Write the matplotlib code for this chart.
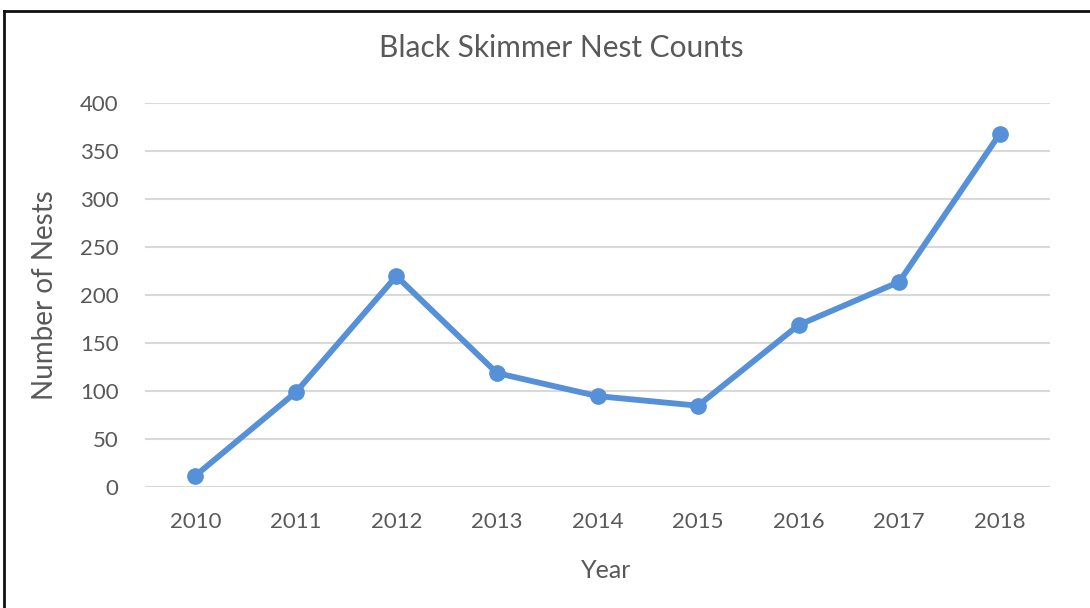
import matplotlib
matplotlib.use('Agg')
import matplotlib.pyplot as plt
from matplotlib.lines import Line2D

years = ['2010', '2011', '2012', '2013', '2014', '2015', '2016', '2017', '2018']
nests = [12, 99, 220, 119, 95, 85, 169, 214, 368]
yticks = [0, 50, 100, 150, 200, 250, 300, 350, 400]

plt.rcParams['font.family'] = ['Lato', 'DejaVu Sans']
grey = '#595959'

fig = plt.figure(figsize=(10.9, 6.08), dpi=100)
ax = fig.add_axes([145 / 1090, 1 - 487.3 / 608, 905 / 1090, 384 / 608])

x = list(range(len(years)))
ax.plot(x, nests, color='#5590D8', linewidth=4.2, marker='o', markersize=11,
        solid_capstyle='round', solid_joinstyle='round', zorder=3)

ax.set_xlim(-0.5, len(years) - 0.5)
ax.set_ylim(0, 400)
ax.set_yticks(yticks)
ax.set_xticks(x)
ax.set_xticklabels(years)
ax.grid(axis='y', color='#d9d9d9', linewidth=1.5)
ax.set_axisbelow(True)
for s in ax.spines.values():
    s.set_visible(False)
ax.tick_params(length=0, labelsize=16, labelcolor=grey)
ax.tick_params(axis='x', pad=18)
ax.tick_params(axis='y', pad=19)

ax.set_xlabel('Year', fontsize=18, color=grey)
ax.xaxis.set_label_coords((606 - 145) / 905, -(571 - 487.3) / 384)
ax.xaxis.label.set_va('center')
ax.set_ylabel('Number of Nests', fontsize=20, color=grey, labelpad=16)
fig.text(561 / 1090, 1 - 48 / 608, 'Black Skimmer Nest Counts', fontsize=21.5,
         color=grey, ha='center', va='center')

# border of the chart area (top and left edges only are visible)
fig.add_artist(Line2D([4 / 1090, 4 / 1090], [0, 1 - 11 / 608], color='#111111', linewidth=2))
fig.add_artist(Line2D([4 / 1090, 1], [1 - 11 / 608, 1 - 11 / 608], color='#111111', linewidth=2))

fig.savefig('out.png', dpi=100, facecolor='white')
